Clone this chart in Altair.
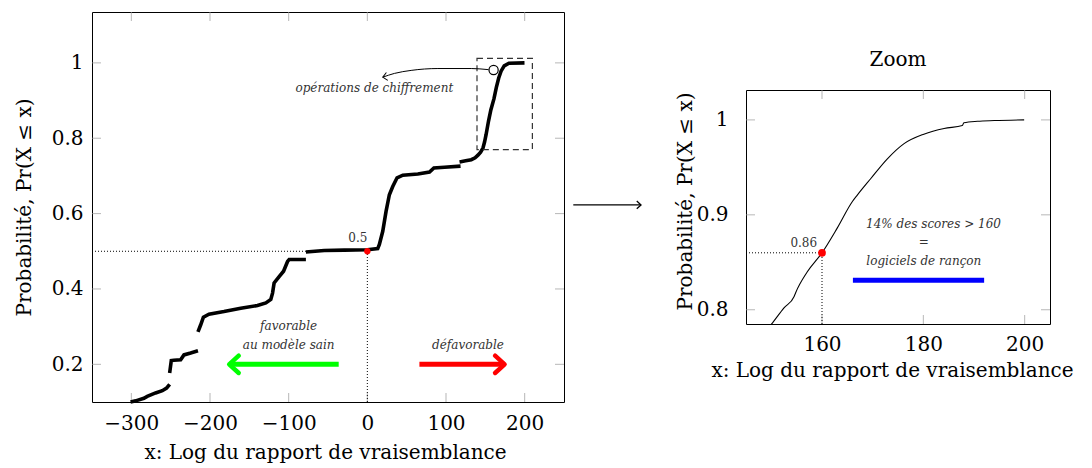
import altair as alt
import pandas as pd

# ---------------- data ----------------
# main empirical CDF, drawn as separate segments (gaps where the curve jumps)
seg1_x = [-301, -294.5, -284, -279.8, -269.2, -260.6, -255.2, -251.3]
seg1_y = [0.100, 0.103, 0.110, 0.115, 0.124, 0.130, 0.137, 0.147]
seg2_x = [-251.3, -249.2, -246, -237.3, -233.1, -224.6, -215.3]
seg2_y = [0.177, 0.210, 0.211, 0.212, 0.225, 0.230, 0.236]
seg3_x = [-215.3, -211.8, -208.4, -201.3, -182.2, -160.9, -139.6, -129, -122.7,
          -120.5, -118.5, -112.1, -106.5, -101.4, -99.4, -78.1]
seg3_y = [0.286, 0.305, 0.325, 0.333, 0.340, 0.349, 0.356, 0.363, 0.372,
          0.389, 0.416, 0.433, 0.447, 0.473, 0.478, 0.478]
seg4_x = [-78.1, -54.8, -29.3, 0, 13.2, 15.3, 19.6, 23.8, 28.0, 32.3, 37.8,
          45.1, 64.2, 79, 84.6, 98.1, 118.5]
seg4_y = [0.498, 0.502, 0.503, 0.504, 0.507, 0.518, 0.553, 0.606, 0.650, 0.672,
          0.695, 0.702, 0.705, 0.710, 0.721, 0.723, 0.726]
seg5_x = [117.2, 125, 132.1, 137, 140.6, 144, 147, 149, 151, 154, 157, 161, 164,
          167, 170, 174, 180, 199.8]
seg5_y = [0.737, 0.740, 0.743, 0.748, 0.755, 0.763, 0.774, 0.79, 0.81, 0.845,
          0.875, 0.905, 0.935, 0.96, 0.978, 0.992, 0.999, 1.0]

# zoomed curve
zoom_x = [148.5, 150.2, 152.5, 154.5, 154.8, 157.1, 160, 163, 166, 167, 169.6,
          172.9, 176.2, 180.1, 184.1, 187.7, 188, 190.7, 194, 199.9]
zoom_y = [0.775, 0.786, 0.802, 0.814, 0.818, 0.840, 0.860, 0.886, 0.914, 0.921,
          0.938, 0.959, 0.975, 0.985, 0.991, 0.994, 0.997, 0.9986, 0.9993, 1.0]

main_xticks = [-300, -200, -100, 0, 100, 200]
main_yticks = [0.2, 0.4, 0.6, 0.8, 1.0]
zoom_xticks = [160, 180, 200]
zoom_yticks = [0.8, 0.9, 1.0]

MAIN_XDOM = [-350, 250]
MAIN_YDOM = [0.1, 1.135]
ZOOM_XDOM = [145, 205]
ZOOM_YDOM = [0.785, 1.0315]

# annotations (data coordinates)
median_pt = {"x": [0], "y": [0.5]}
zoom_pt = {"x": [160], "y": [0.86]}
box = {"x": [139.4], "x2": [209.8], "y": [0.770], "y2": [1.0117]}
circle_pt = {"x": [160.5], "y": [0.981]}
curve_arrow_x = [154.1, 132.1, 89.7, 55.7, 34.4, 19.6]
curve_arrow_y = [0.982, 0.985, 0.985, 0.980, 0.972, 0.962]
green_arrow = {"x": [-36.4], "x2": [-175.6], "y": [0.2]}
red_arrow = {"x": [66.2], "x2": [174.5], "y": [0.2]}
link_arrow = {"x": [261.8], "x2": [347.9], "y": [0.623]}
blue_bar = {"x": [166.1], "x2": [192.0], "y": [0.831]}

main_dotted = {"x": [-350, 0], "x2": [-78.1, 0], "y": [0.5, 0.1], "y2": [0.5, 0.5]}
zoom_dotted = {"x": [145, 160], "x2": [160, 160], "y": [0.86, 0.785], "y2": [0.86, 0.86]}

main_plain_text = {"x": [-12], "y": [0.535], "t": ["0.5"]}
main_italic_text = {"x": [8.9, -100, -100, 128],
                    "y": [0.932, 0.303, 0.250, 0.252],
                    "t": ["opérations de chiffrement", "favorable", "au modèle sain", "défavorable"]}
zoom_plain_text = {"x": [156.4, 180.1], "y": [0.870, 0.871], "t": ["0.86", "="]}
zoom_italic_text = {"x": [182.0, 180.1], "y": [0.890, 0.851],
                    "t": ["14% des scores > 160", "logiciels de rançon"]}

FONT = "DejaVu Serif"
MW, MH = 472, 390
ZW, ZH = 304, 234
CHEVRON = "M-1.1,-1L0,0L-1.1,1"
XTITLE = "x: Log du rapport de vraisemblance"
YTITLE = "Probabilité, Pr(X ≤ x)"

# ---------------- axes ----------------
main_x_axis = alt.Axis(values=main_xticks, format="d", title=XTITLE,
                       ticks=False, tickSize=0, domain=False, grid=False, labelPadding=11,
                       titleX=233, titleY=56, titleBaseline="alphabetic", titleAlign="center")
main_y_axis = alt.Axis(values=main_yticks, format="~g", title=YTITLE,
                       ticks=False, tickSize=0, domain=False, grid=False, labelPadding=9,
                       titleX=-62, titleY=MH / 2, titleBaseline="alphabetic", titleAlign="center")
zoom_x_axis = alt.Axis(values=zoom_xticks, format="d", title=XTITLE,
                       ticks=False, tickSize=0, domain=False, grid=False, labelPadding=10,
                       titleX=146, titleY=52, titleBaseline="alphabetic", titleAlign="center")
zoom_y_axis = alt.Axis(values=zoom_yticks, format="~g", title=YTITLE,
                       ticks=False, tickSize=0, domain=False, grid=False, labelPadding=18,
                       titleX=-55, titleY=111, titleBaseline="alphabetic", titleAlign="center")


# ---------------- helpers ----------------
def mx(field="x"):
    return alt.X(f"{field}:Q", scale=alt.Scale(domain=MAIN_XDOM, nice=False, zero=False),
                 axis=main_x_axis)


def my(field="y"):
    return alt.Y(f"{field}:Q", scale=alt.Scale(domain=MAIN_YDOM, nice=False, zero=False),
                 axis=main_y_axis)


def zx(field="x"):
    return alt.X(f"{field}:Q", scale=alt.Scale(domain=ZOOM_XDOM, nice=False, zero=False),
                 axis=zoom_x_axis)


def zy(field="y"):
    return alt.Y(f"{field}:Q", scale=alt.Scale(domain=ZOOM_YDOM, nice=False, zero=False),
                 axis=zoom_y_axis)


def df(d):
    return pd.DataFrame(d)


def inner_ticks(xt, yt, fx, fy, w, h):
    L = 9
    xdf = df({"x": xt})
    ydf = df({"y": yt})
    opts = dict(size=L, thickness=1, color="#999999")
    return [
        alt.Chart(xdf).mark_tick(**opts).encode(x=fx(), y=alt.value(h - L / 2)),
        alt.Chart(xdf).mark_tick(**opts).encode(x=fx(), y=alt.value(L / 2)),
        alt.Chart(ydf).mark_tick(**opts).encode(y=fy(), x=alt.value(L / 2)),
        alt.Chart(ydf).mark_tick(**opts).encode(y=fy(), x=alt.value(w - L / 2)),
    ]


# ---------------- main panel ----------------
rows = []
for sid, (xs, ys) in enumerate([(seg1_x, seg1_y), (seg2_x, seg2_y), (seg3_x, seg3_y),
                                (seg4_x, seg4_y), (seg5_x, seg5_y)]):
    for i, (a, b) in enumerate(zip(xs, ys)):
        rows.append({"x": a, "y": b, "seg": sid, "i": i})
main_df = pd.DataFrame(rows)

main_layers = inner_ticks(main_xticks, main_yticks, mx, my, MW, MH)
main_layers += [
    alt.Chart(df(main_dotted)).mark_rule(color="black", strokeWidth=1, strokeDash=[1, 2]).encode(
        x=mx(), x2="x2:Q", y=my(), y2="y2:Q"),
    alt.Chart(main_df).mark_line(color="black", strokeWidth=3.6).encode(
        x=mx(), y=my(), detail="seg:N", order="i:Q"),
    alt.Chart(df(median_pt)).mark_circle(color="red", opacity=1, size=40).encode(x=mx(), y=my()),
    alt.Chart(df(box)).mark_rect(fillOpacity=0, stroke="#333333", strokeWidth=1.2,
                                 strokeDash=[6, 4]).encode(x=mx(), x2="x2:Q", y=my(), y2="y2:Q"),
    alt.Chart(df({"x": curve_arrow_x, "y": curve_arrow_y, "i": list(range(len(curve_arrow_x)))}))
    .mark_line(color="black", strokeWidth=1, interpolate="monotone").encode(
        x=mx(), y=my(), order="i:Q"),
    alt.Chart(df({"x": [curve_arrow_x[-1]], "y": [curve_arrow_y[-1]]})).mark_point(
        shape=CHEVRON, filled=False, stroke="black", strokeWidth=1, size=64, angle=170,
        opacity=1).encode(x=mx(), y=my()),
    alt.Chart(df(circle_pt)).mark_point(shape="circle", filled=True, fill="white", stroke="black",
                                        strokeWidth=1.2, size=85, opacity=1).encode(x=mx(), y=my()),
    alt.Chart(df(green_arrow)).mark_rule(color="#00ff00", strokeWidth=5).encode(
        x=mx(), x2="x2:Q", y=my()),
    alt.Chart(df({"x": green_arrow["x2"], "y": green_arrow["y"]})).mark_point(
        shape=CHEVRON, filled=False, stroke="#00ff00", strokeWidth=4.5, size=300, angle=180,
        opacity=1, strokeCap="round", strokeJoin="round").encode(x=mx(), y=my()),
    alt.Chart(df(red_arrow)).mark_rule(color="#ff0000", strokeWidth=5).encode(
        x=mx(), x2="x2:Q", y=my()),
    alt.Chart(df({"x": red_arrow["x2"], "y": red_arrow["y"]})).mark_point(
        shape=CHEVRON, filled=False, stroke="#ff0000", strokeWidth=4.5, size=300, angle=0,
        opacity=1, strokeCap="round", strokeJoin="round").encode(x=mx(), y=my()),
    alt.Chart(df(link_arrow)).mark_rule(color="black", strokeWidth=1.3).encode(
        x=mx(), x2="x2:Q", y=my()),
    alt.Chart(df({"x": link_arrow["x2"], "y": link_arrow["y"]})).mark_point(
        shape=CHEVRON, filled=False, stroke="black", strokeWidth=1.3, size=60, angle=0,
        opacity=1).encode(x=mx(), y=my()),
    alt.Chart(df(main_plain_text)).mark_text(font=FONT, fontSize=12, color="#333333",
                                             baseline="middle").encode(x=mx(), y=my(), text="t:N"),
    alt.Chart(df(main_italic_text)).mark_text(font=FONT, fontSize=12, fontStyle="italic",
                                              color="#333333", baseline="middle").encode(
        x=mx(), y=my(), text="t:N"),
]
main_chart = alt.layer(*main_layers).properties(width=MW, height=MH)

# ---------------- zoom panel ----------------
zoom_df = pd.DataFrame({"x": zoom_x, "y": zoom_y, "i": list(range(len(zoom_x)))})

zoom_layers = inner_ticks(zoom_xticks, zoom_yticks, zx, zy, ZW, ZH)
zoom_layers += [
    alt.Chart(df(zoom_dotted)).mark_rule(color="black", strokeWidth=1, strokeDash=[1, 2]).encode(
        x=zx(), x2="x2:Q", y=zy(), y2="y2:Q"),
    alt.Chart(zoom_df).mark_line(color="black", strokeWidth=1.1, interpolate="monotone",
                                 clip=True).encode(x=zx(), y=zy(), order="i:Q"),
    alt.Chart(df(zoom_pt)).mark_circle(color="red", opacity=1, size=60).encode(x=zx(), y=zy()),
    alt.Chart(df(blue_bar)).mark_rule(color="#0000ff", strokeWidth=5).encode(
        x=zx(), x2="x2:Q", y=zy()),
    alt.Chart(df(zoom_plain_text)).mark_text(font=FONT, fontSize=12, color="#333333",
                                             baseline="middle").encode(x=zx(), y=zy(), text="t:N"),
    alt.Chart(df(zoom_italic_text)).mark_text(font=FONT, fontSize=12, fontStyle="italic",
                                              color="#333333", baseline="middle").encode(
        x=zx(), y=zy(), text="t:N"),
]
zoom_chart = alt.layer(*zoom_layers).properties(
    width=ZW, height=ZH,
    title=alt.TitleParams("Zoom", font=FONT, fontSize=20, fontWeight="normal", color="black",
                          anchor="middle", baseline="alphabetic", offset=4))

chart = alt.hconcat(main_chart, zoom_chart, spacing=182, bounds="flush", center=True).resolve_scale(
    x="independent", y="independent"
).properties(
    padding={"left": 5, "top": 3, "right": 5, "bottom": 5}
).configure_view(stroke="black", strokeWidth=1).configure_axis(
    labelFont=FONT, titleFont=FONT, labelFontSize=20, titleFontSize=20,
    titleFontWeight="normal", labelColor="black", titleColor="black"
)

chart.save("out.html", embed_options={"renderer": "svg", "actions": False})
